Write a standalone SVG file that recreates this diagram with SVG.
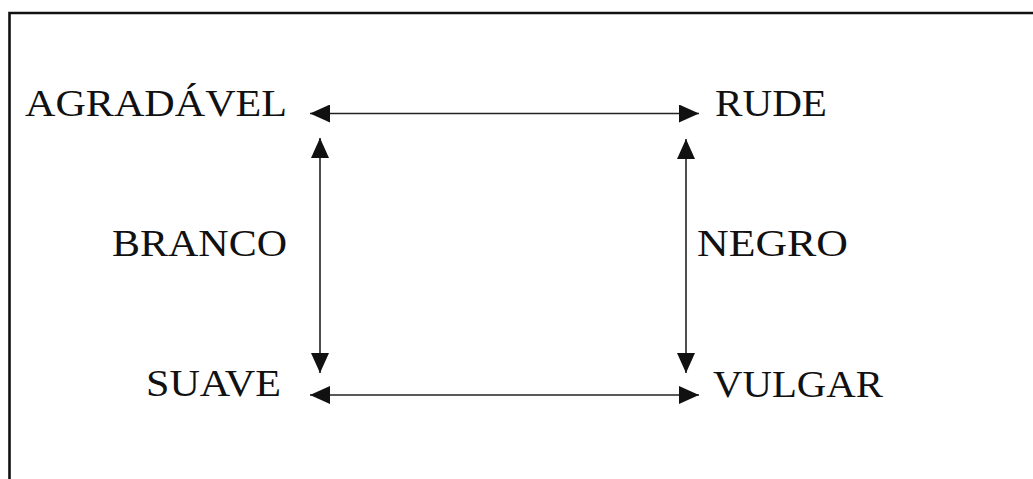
<svg xmlns="http://www.w3.org/2000/svg" width="1033" height="479" viewBox="0 0 1033 479">
<style>
.lbl{font-family:"Liberation Serif","Times New Roman",serif;font-size:38px;fill:#111}
.conn{stroke:#222;stroke-width:1.6;fill:none}
</style>
<defs>
<marker id="ah" viewBox="0 0 20 18" refX="20" refY="9" markerWidth="20" markerHeight="18" markerUnits="userSpaceOnUse" orient="auto-start-reverse">
<path d="M0,0 L20,9 L0,18 z" fill="#111"/>
</marker>
</defs>
<rect width="1033" height="479" fill="#fff"/>
<path d="M9.5,480 V13 H1034" stroke="#111" stroke-width="2.6" fill="none"/>
<g id="connectors">
<line class="conn" x1="310" y1="113.5" x2="699" y2="113.5" marker-start="url(#ah)" marker-end="url(#ah)"/>
<line class="conn" x1="310" y1="395" x2="699" y2="395" marker-start="url(#ah)" marker-end="url(#ah)"/>
<line class="conn" x1="320" y1="138" x2="320" y2="373" marker-start="url(#ah)" marker-end="url(#ah)"/>
<line class="conn" x1="686" y1="139" x2="686" y2="373" marker-start="url(#ah)" marker-end="url(#ah)"/>
</g>
<g id="agradavel"><text class="lbl" x="25" y="116" textLength="262" lengthAdjust="spacingAndGlyphs">AGRADÁVEL</text></g>
<g id="rude"><text class="lbl" x="715" y="116" textLength="112" lengthAdjust="spacingAndGlyphs">RUDE</text></g>
<g id="branco"><text class="lbl" x="112" y="256" textLength="175" lengthAdjust="spacingAndGlyphs">BRANCO</text></g>
<g id="negro"><text class="lbl" x="697" y="256" textLength="151" lengthAdjust="spacingAndGlyphs">NEGRO</text></g>
<g id="suave"><text class="lbl" x="146" y="396" textLength="135" lengthAdjust="spacingAndGlyphs">SUAVE</text></g>
<g id="vulgar"><text class="lbl" x="713" y="397" textLength="170" lengthAdjust="spacingAndGlyphs">VULGAR</text></g>
</svg>
